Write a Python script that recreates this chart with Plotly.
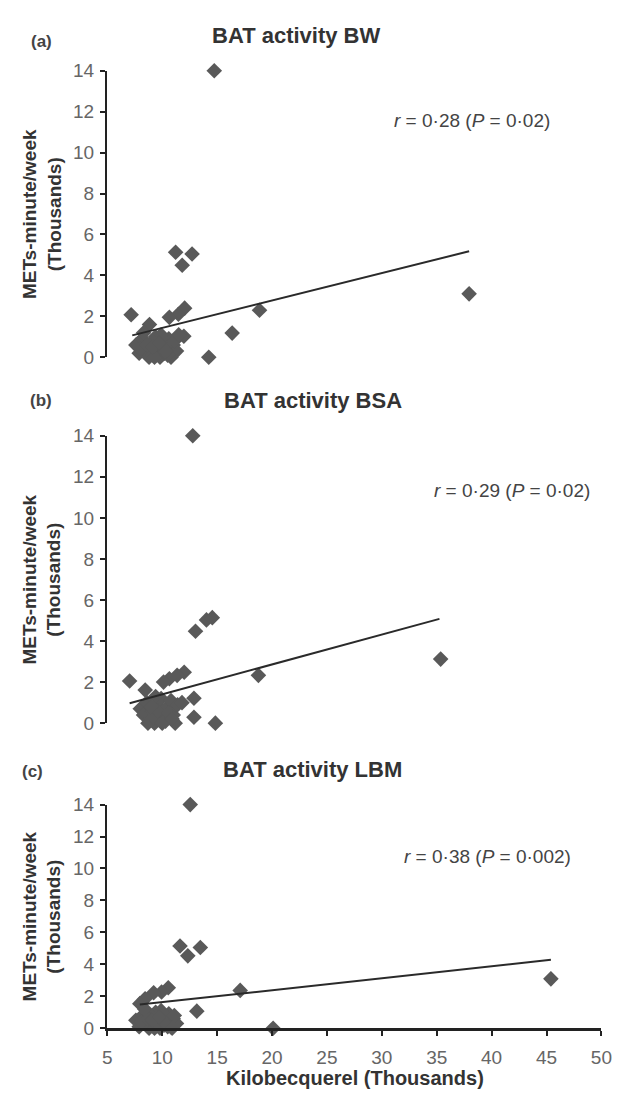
import plotly.graph_objects as go

W, H = 628, 1103

# ---------------- data ----------------
# Panel (a) BAT activity BW
a_x = [14.74, 37.95, 18.86, 16.37, 14.24, 7.17, 8.84, 11.22, 12.72, 11.82, 12.04, 11.47, 10.65, 11.97, 7.8,
       7.6, 7.9, 8.2, 8.5, 8.8, 9.0, 9.2, 9.4, 9.6, 9.8, 10.0, 10.2, 10.4, 10.6, 10.8, 11.0, 11.3,
       8.0, 8.6, 9.3, 9.9, 10.5, 11.1, 11.5, 9.1, 10.3, 8.3, 9.7]
a_y = [14.0, 3.10, 2.30, 1.18, 0.0, 2.08, 1.60, 5.13, 5.05, 4.5, 2.40, 2.1, 1.95, 1.03, 0.67,
       0.6, 0.2, 0.9, 0.3, 0.0, 0.7, 0.1, 1.0, 0.4, 0.0, 0.8, 0.2, 0.5, 0.9, 0.0, 0.6, 0.3,
       0.4, 0.6, 0.0, 1.1, 0.1, 0.8, 1.1, 0.5, 0.3, 1.2, 0.7]
a_line_x = [7.27, 37.95]
a_line_y = [1.07, 5.18]

# Panel (b) BAT activity BSA
b_x = [12.78, 35.36, 18.76, 13.03, 14.03, 14.56, 7.03, 8.45, 12.89, 12.89, 14.84, 11.18, 12.0, 11.36, 10.65, 10.12,
       8.0, 8.3, 8.6, 8.9, 9.1, 9.3, 9.5, 9.7, 9.9, 10.1, 10.3, 10.5, 10.8, 11.0, 11.4, 11.8,
       8.7, 9.2, 9.6, 10.0, 10.6, 9.4, 9.0, 10.9]
b_y = [14.0, 3.12, 2.33, 4.48, 5.03, 5.14, 2.05, 1.61, 1.21, 0.29, 0.0, 0.0, 2.48, 2.33, 2.16, 2.0,
       0.7, 0.4, 1.0, 0.2, 0.6, 0.0, 0.9, 0.3, 1.2, 0.5, 0.1, 0.8, 1.1, 0.4, 0.9, 1.0,
       0.0, 0.3, 0.6, 0.0, 0.5, 1.3, 0.8, 0.2]
b_line_x = [7.03, 35.25]
b_line_y = [0.97, 5.08]

# Panel (c) BAT activity LBM
c_x = [12.55, 45.4, 17.1, 13.15, 20.1, 11.62, 12.33, 13.47, 10.55, 9.94, 9.22, 8.44, 7.96,
       7.6, 7.9, 8.2, 8.5, 8.8, 9.0, 9.2, 9.4, 9.6, 9.8, 10.0, 10.2, 10.4, 10.6, 10.8, 11.0, 11.3,
       8.1, 8.7, 9.3, 9.9, 10.5, 11.1, 9.1, 10.3, 8.4, 9.7, 10.9]
c_y = [14.0, 3.09, 2.37, 1.07, 0.0, 5.15, 4.53, 5.05, 2.53, 2.27, 2.22, 1.85, 1.54,
       0.5, 0.1, 0.8, 0.3, 0.0, 0.7, 0.2, 1.0, 0.4, 0.0, 0.8, 0.2, 0.5, 0.9, 0.1, 0.6, 0.3,
       0.4, 0.6, 0.0, 1.1, 0.1, 0.8, 0.5, 0.3, 1.2, 0.7, 0.0]
c_line_x = [7.96, 45.4]
c_line_y = [1.48, 4.28]

panel_titles = ["BAT activity BW", "BAT activity BSA", "BAT activity LBM"]
panel_letters = ["(a)", "(b)", "(c)"]
stats_text = ["<i>r</i> = 0·28 (<i>P</i> = 0·02)", "<i>r</i> = 0·29 (<i>P</i> = 0·02)",
              "<i>r</i> = 0·38 (<i>P</i> = 0·002)"]
stats_pos = [(38.2, 11.55), (41.9, 11.32), (39.6, 10.73)]
x_ticks = [5, 10, 15, 20, 25, 30, 35, 40, 45, 50]
y_ticks = [0, 2, 4, 6, 8, 10, 12, 14]
y_title = "METs-minute/week<br>(Thousands)"
x_title = "Kilobecquerel (Thousands)"

# ---------------- layout (pixel geometry of the window) ----------------
FONT = "Liberation Sans, Arial, sans-serif"
MARK = "#595959"
AX = "#222222"
TICKC = "#666666"

x_left, x_right = 105, 612
panels_px = [(62, 354), (434, 727), (810, 1038)]  # (top, bottom) window pixels
title_px = [(299, 26), (316, 398), (316, 774)]
letter_px = [(37, 32), (37, 398), (28, 776)]

def py(v):
    return 1 - v / H

def px(v):
    return v / W

fig = go.Figure()
series = [(a_x, a_y, a_line_x, a_line_y), (b_x, b_y, b_line_x, b_line_y), (c_x, c_y, c_line_x, c_line_y)]
for i, (sx, sy, lx, ly) in enumerate(series):
    n = "" if i == 0 else str(i + 1)
    fig.add_trace(go.Scatter(x=sx, y=sy, mode="markers", xaxis="x" + n, yaxis="y" + n,
                             marker=dict(symbol="diamond", size=12, color=MARK, line=dict(width=0)),
                             cliponaxis=False, showlegend=False))
    fig.add_trace(go.Scatter(x=lx, y=ly, mode="lines", xaxis="x" + n, yaxis="y" + n,
                             line=dict(color="#2a2a2a", width=2), showlegend=False))

layout = dict(width=W, height=H, margin=dict(l=0, r=0, t=0, b=0),
              paper_bgcolor="white", plot_bgcolor="white",
              font=dict(family=FONT, color="#333"), showlegend=False)

annotations = []
for i, (top, bot) in enumerate(panels_px):
    n = "" if i == 0 else str(i + 1)
    last = i == 2
    layout["xaxis" + n] = dict(domain=[px(x_left), px(x_right)], range=[5, 50], anchor="y" + n,
                               visible=last, showgrid=False, zeroline=False,
                               showline=True, linecolor=AX, linewidth=2.5,
                               ticks="outside", ticklen=5, tickwidth=2, tickcolor=AX,
                               tickvals=x_ticks, tickfont=dict(size=19, color=TICKC),
                               ticklabelstandoff=5, fixedrange=True)
    layout["yaxis" + n] = dict(domain=[py(bot), py(top)], range=[0, 14], anchor="x" + n,
                               showgrid=False, zeroline=False,
                               showline=True, linecolor=AX, linewidth=2.5,
                               ticks="outside", ticklen=5, tickwidth=2, tickcolor=AX,
                               tickvals=y_ticks, tickfont=dict(size=19, color=TICKC),
                               ticklabelstandoff=2, fixedrange=True)
    annotations.append(dict(text="<b>" + panel_titles[i] + "</b>", xref="paper", yref="paper",
                            x=px(title_px[i][0]), y=py(title_px[i][1]), xanchor="center", yanchor="middle",
                            showarrow=False, font=dict(size=22, color="#333")))
    annotations.append(dict(text="<b>" + panel_letters[i] + "</b>", xref="paper", yref="paper",
                            x=px(letter_px[i][0]), y=py(letter_px[i][1]), xanchor="center", yanchor="middle",
                            showarrow=False, font=dict(size=17, color="#444")))
    annotations.append(dict(text=stats_text[i], xref="x" + n, yref="y" + n,
                            x=stats_pos[i][0], y=stats_pos[i][1], xanchor="center", yanchor="middle",
                            showarrow=False, font=dict(size=19, color="#444")))
    annotations.append(dict(text="<b>" + y_title + "</b>", xref="paper", yref="paper",
                            x=px(38), y=py((top + bot) / 2), xanchor="center", yanchor="middle",
                            textangle=-90, showarrow=False, font=dict(size=19, color="#333")))

annotations.append(dict(text="<b>" + x_title + "</b>", xref="paper", yref="paper",
                        x=px(359), y=py(1089), xanchor="center", yanchor="middle",
                        showarrow=False, font=dict(size=20, color="#333")))
layout["annotations"] = annotations
fig.update_layout(**layout)
# remove the default page margin so the 628x1103 figure fills the window exactly
fig.write_html("out.html",
               config={"displayModeBar": False, "staticPlot": True},
               post_script="document.body.style.margin='0';document.body.style.overflow='hidden';")
